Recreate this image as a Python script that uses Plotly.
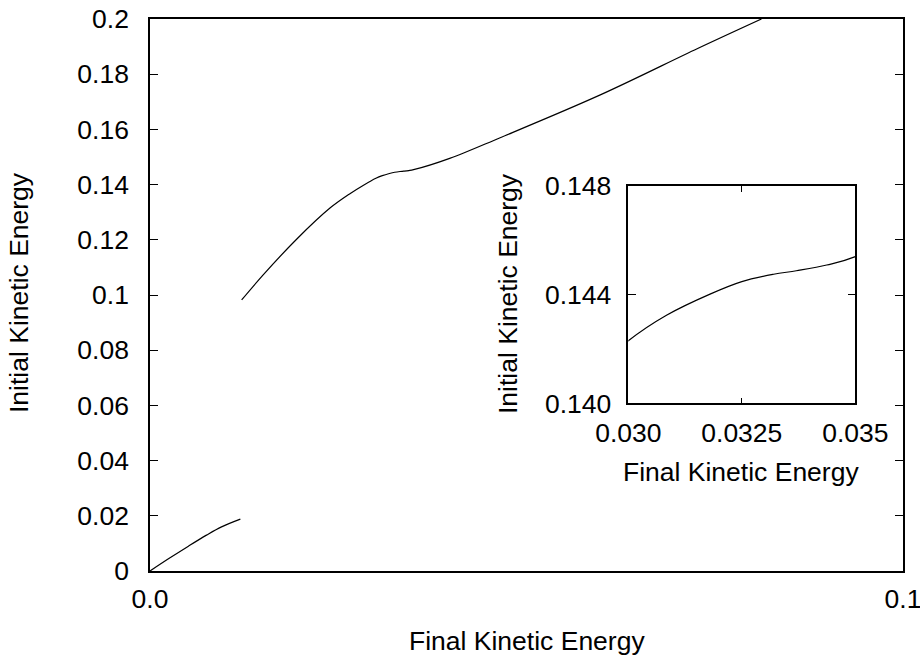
import plotly.graph_objects as go

# ---- data ----
seg1_x = [0.0, 0.0025, 0.0051, 0.0075, 0.0095, 0.0120]
seg1_y = [0.0, 0.0045, 0.0090, 0.0130, 0.0160, 0.0188]

seg2_x = [0.01217, 0.0150, 0.0195, 0.0239, 0.0266, 0.0283, 0.0300, 0.03085, 0.0318,
          0.0325, 0.0332, 0.0337, 0.03437, 0.0350, 0.0398, 0.0465, 0.0598,
          0.0728, 0.0812]
seg2_y = [0.0982, 0.1072, 0.1203, 0.1315, 0.1368, 0.1397, 0.1423, 0.14325, 0.14402,
          0.14448, 0.14475, 0.14488, 0.14509, 0.1454, 0.1495, 0.1570, 0.1725,
          0.1894, 0.2000]

main_xticks = [0.0, 0.1]
main_xticklabels = ["0.0", "0.1"]
main_yticks = [0.0, 0.02, 0.04, 0.06, 0.08, 0.10, 0.12, 0.14, 0.16, 0.18, 0.20]
main_yticklabels = ["0", "0.02", "0.04", "0.06", "0.08", "0.1", "0.12", "0.14",
                    "0.16", "0.18", "0.2"]

inset_xticks = [0.030, 0.0325, 0.035]
inset_xticklabels = ["0.030", "0.0325", "0.035"]
inset_yticks = [0.140, 0.144, 0.148]
inset_yticklabels = ["0.140", "0.144", "0.148"]

x_title = "Final Kinetic Energy"
y_title = "Initial Kinetic Energy"

FONT = "Liberation Sans, Arial, Helvetica, sans-serif"
FS = 26.5

fig = go.Figure()
line = dict(color="black", width=1.2)
fig.add_trace(go.Scatter(x=seg1_x, y=seg1_y, mode="lines", line=line, line_shape="spline",
                         xaxis="x", yaxis="y", showlegend=False))
fig.add_trace(go.Scatter(x=seg2_x, y=seg2_y, mode="lines", line=line, line_shape="spline",
                         xaxis="x", yaxis="y", showlegend=False))
fig.add_trace(go.Scatter(x=seg2_x, y=seg2_y, mode="lines", line=line, line_shape="spline",
                         xaxis="x2", yaxis="y2", showlegend=False))

axis_common = dict(showline=True, linecolor="black", linewidth=1.5, mirror="ticks",
                   ticks="inside", tickcolor="black", tickwidth=1.2, showgrid=False,
                   zeroline=False, ticklabeloverflow="allow",
                   tickfont=dict(family=FONT, size=FS, color="black"))

fig.update_layout(
    width=920, height=657, autosize=False,
    margin=dict(l=150, r=17, t=19, b=86, autoexpand=False),
    paper_bgcolor="white", plot_bgcolor="white",
    font=dict(family=FONT, size=FS, color="black"),
    xaxis=dict(range=[0, 0.1], tickmode="array", tickvals=main_xticks,
               ticktext=main_xticklabels, ticklen=8, ticklabelstandoff=3,
               domain=[0, 1], automargin=False, **axis_common),
    yaxis=dict(range=[0, 0.2], tickmode="array", tickvals=main_yticks,
               ticktext=main_yticklabels, ticklen=8, ticklabelstandoff=14,
               domain=[0, 1], automargin=False, **axis_common),
    xaxis2=dict(range=[0.030, 0.035], tickmode="array", tickvals=inset_xticks,
                ticktext=inset_xticklabels, ticklen=6, ticklabelstandoff=5,
                domain=[0.6352, 0.9367], anchor="y2", automargin=False, **axis_common),
    yaxis2=dict(range=[0.140, 0.148], tickmode="array", tickvals=inset_yticks,
                ticktext=inset_yticklabels, ticklen=8, ticklabelstandoff=10,
                domain=[0.3038, 0.6975], anchor="x2", automargin=False, **axis_common),
)

def py(p):
    return (571 - p) / 552

def px(p):
    return (p - 150) / 753

ann = dict(showarrow=False, xref="paper", yref="paper", font=dict(family=FONT, size=FS, color="black"))
fig.add_annotation(text=x_title, x=0.5, y=py(641), xanchor="center", yanchor="middle", **ann)
fig.add_annotation(text=y_title, x=px(19), y=py(293), xanchor="center", yanchor="middle",
                   textangle=-90, **ann)
fig.add_annotation(text=x_title, x=px(740.5), y=py(472), xanchor="center", yanchor="middle", **ann)
fig.add_annotation(text=y_title, x=px(508), y=py(294), xanchor="center", yanchor="middle",
                   textangle=-90, **ann)

fig.write_html("out.html", config={"displayModeBar": False},
               post_script="document.body.style.margin='0';")
